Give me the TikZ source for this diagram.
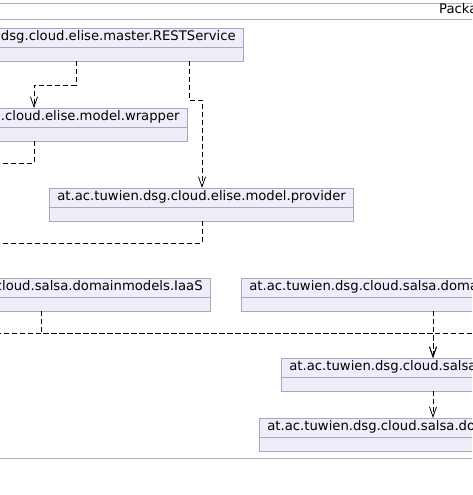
\documentclass[tikz,border=0pt]{standalone}
\usepackage{fontspec}
\setmainfont{DejaVu Sans}
\usetikzlibrary{positioning,shapes.multipart,arrows.meta}
\definecolor{clsfill}{HTML}{EEEEFB}
\definecolor{clsline}{HTML}{A8A8BC}
\definecolor{frameline}{HTML}{B0B0B6}
\newcommand\cpad{\hspace*{21pt}}

\begin{document}
\begin{tikzpicture}[x=1pt,y=-1pt,
  every node/.style={font=\fontsize{13.2}{15}\selectfont},
  cls/.style={rectangle split,rectangle split parts=2,draw=clsline,fill=clsfill,line width=0.8pt,inner xsep=8pt,inner ysep=3pt,text height=9pt,text depth=3pt,rectangle split empty part height=7pt,rectangle split empty part depth=0pt,rectangle split part align=left},
  dep/.style={draw,dash pattern=on 5pt off 3pt,line width=0.8pt},
  deparrow/.style={dep,-{Straight Barb[length=10pt,width=7pt]}},
]
\useasboundingbox (0,0) rectangle (472,495);
\clip (0,0) rectangle (472,495);

% package frame
\draw[frameline,line width=0.8pt] (-10,3) -- (490,3);
\draw[frameline,line width=0.8pt] (-10,19) -- (490,19);
\draw[frameline,line width=0.8pt] (-10,458) -- (490,458);
\node (pkg) [anchor=base west,inner sep=0pt] at (439,14) {Package};

% classes
\node (rest) [cls,anchor=north east] at (244,28) {at.ac.tuwien.dsg.cloud.elise.master.RESTService\cpad\nodepart{two}};
\node (wrap) [cls,anchor=north east] at (188,108) {at.ac.tuwien.dsg.cloud.elise.model.wrapper\cpad\nodepart{two}};
\node (prov) [cls,anchor=north west] at (49,188) {at.ac.tuwien.dsg.cloud.elise.model.provider\cpad\nodepart{two}};
\node (iaas) [cls,anchor=north east] at (211,278) {at.ac.tuwien.dsg.cloud.salsa.domainmodels.IaaS\cpad\nodepart{two}};
\node (paas) [cls,anchor=north west] at (241,278) {at.ac.tuwien.dsg.cloud.salsa.domainmodels.PaaS\cpad\nodepart{two}};
\node (conn) [cls,anchor=north west] at (281,358) {at.ac.tuwien.dsg.cloud.salsa.cloudconnector\cpad\nodepart{two}};
\node (dmod) [cls,anchor=north west] at (259,418) {at.ac.tuwien.dsg.cloud.salsa.domainmodels\cpad\nodepart{two}};

% ends that leave the picture
\coordinate (wrapout) at (-20,163);
\coordinate (provout) at (-20,243);
\coordinate (iaasout) at (490,333);
\coordinate (busin) at (-20,333);

% dependencies
\draw[deparrow] ([xshift=-168pt]rest.south east) -- ++(0,24) -| ([xshift=-154pt]wrap.north east);
\draw[deparrow] ([xshift=-55pt]rest.south east) -- ++(0,39) -| ([xshift=153pt]prov.north west);
\draw[dep] ([xshift=-154pt]wrap.south east) |- (wrapout);
\draw[dep] ([xshift=153pt]prov.south west) |- (provout);
\draw[dep] ([xshift=-170pt]iaas.south east) |- (iaasout);
\draw[deparrow] (busin) -| ([xshift=152pt]conn.north west);
\draw[deparrow] ([xshift=192pt]paas.south west) -- ([xshift=152pt]conn.north west);
\draw[deparrow] ([xshift=152pt]conn.south west) -- ([xshift=174pt]dmod.north west);
\end{tikzpicture}
\end{document}
